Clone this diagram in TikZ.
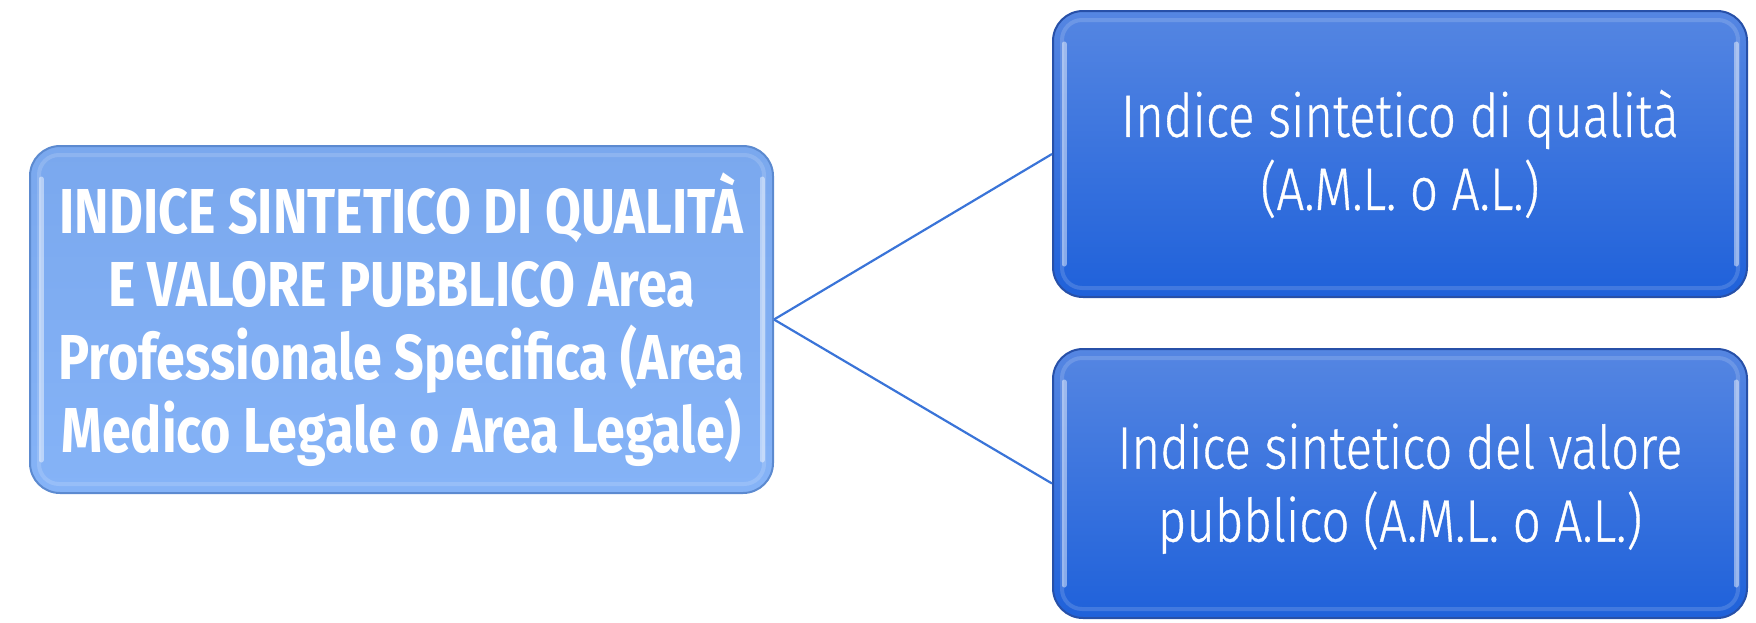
\documentclass[tikz,border=0pt]{standalone}
\usepackage{fontspec}
\setmainfont{Fira Sans}[FakeStretch=0.82]
\newfontfamily\lightfont{Fira Sans Light}[FakeStretch=0.82,FakeBold=0.6]
\begin{document}
\begin{tikzpicture}[x=1pt,y=-1pt,
  leftbox/.style={rounded corners=30pt, draw=lbord, line width=2pt,
    top color=ltop, bottom color=lbot, minimum width=743pt, minimum height=347pt,
    text=white, align=center, inner sep=0pt,
    font=\bfseries\fontsize{63.5}{73}\selectfont},
  rightbox/.style={rounded corners=30pt, draw=rbord, line width=2pt,
    top color=rtop, bottom color=rbot, minimum width=694pt,
    text=white, align=center, inner sep=0pt,
    font=\lightfont\fontsize{60}{73}\selectfont},
  conn/.style={draw=lcol, line width=2.2pt},
  ring/.style={white, opacity=0.15, line width=4pt, rounded corners=20pt},
  strip/.style={white, opacity=0.45, line width=5pt, line cap=round}]
\definecolor{ltop}{HTML}{7AA8EE}
\definecolor{lbot}{HTML}{85B3F7}
\definecolor{lbord}{HTML}{5C8AD0}
\definecolor{rtop}{HTML}{5586E2}
\definecolor{rbot}{HTML}{1F61DA}
\definecolor{rbord}{HTML}{2750A8}
\definecolor{lcol}{HTML}{3A74D8}
\useasboundingbox (0,0) rectangle (1756,622);
\node[leftbox] (L) at (401.5,319.5) {INDICE SINTETICO DI QUALITÀ\\E VALORE PUBBLICO Area\\Professionale Specifica (Area\\Medico Legale o Area Legale)};
\node[rightbox, minimum height=286pt] (A) at (1400,154) {Indice sintetico di qualità\\(A.M.L. o A.L.)};
\node[rightbox, minimum height=269pt] (B) at (1400,483.5) {\raisebox{-7pt}[\height][\depth]{\begin{tabular}{@{}c@{}}Indice sintetico del valore\\pubblico (A.M.L. o A.L.)\end{tabular}}};
\foreach \n in {L,A,B}{
  \draw[ring] ([xshift=10pt,yshift=-10pt]\n.north west) rectangle ([xshift=-10pt,yshift=10pt]\n.south east);
  \draw[strip] ([xshift=12pt,yshift=-34pt]\n.north west) -- ([xshift=12pt,yshift=34pt]\n.south west);
  \draw[strip] ([xshift=-12pt,yshift=-34pt]\n.north east) -- ([xshift=-12pt,yshift=34pt]\n.south east);
}
\draw[conn] (L.east) -- (A.west);
\draw[conn] (L.east) -- (B.west);
\end{tikzpicture}
\end{document}
